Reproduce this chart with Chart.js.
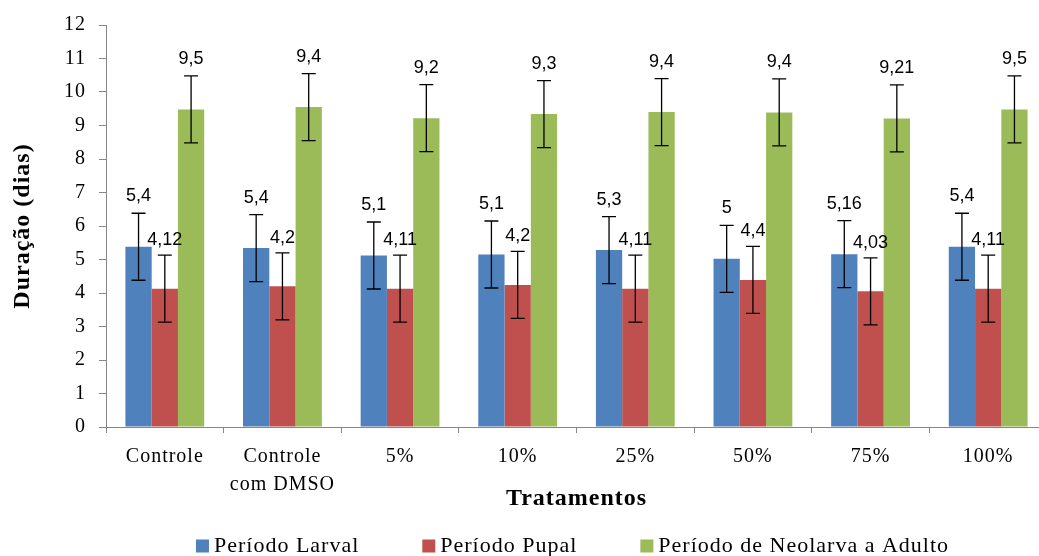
<!DOCTYPE html>
<html>
<head>
<meta charset="utf-8">
<script src="https://cdn.jsdelivr.net/npm/chart.js@4.4.1/dist/chart.umd.min.js"></script>
<style>
  html, body { margin: 0; padding: 0; background: #fff; overflow: hidden; }
  #wrap { width: 1050px; height: 556px; }
</style>
</head>
<body>
<div id="wrap"><canvas id="grafico" width="1050" height="556"></canvas></div>
<script>
// dados
var tratamentos = ["Controle", ["Controle", "com DMSO"], "5%", "10%", "25%", "50%", "75%", "100%"];
var larval = [5.38, 5.34, 5.12, 5.15, 5.28, 5.02, 5.16, 5.38];
var pupal = [4.13, 4.20, 4.13, 4.24, 4.13, 4.39, 4.05, 4.13];
var neolarva = [9.48, 9.55, 9.22, 9.34, 9.40, 9.39, 9.21, 9.48];
var erroLarval = [1, 1, 1, 1, 1, 1, 1, 1];
var erroPupal = [1, 1, 1, 1, 1, 1, 1, 1];
var erroNeolarva = [1, 1, 1, 1, 1, 1, 1, 1];
var rotLarval = ["5,4", "5,4", "5,1", "5,1", "5,3", "5", "5,16", "5,4"];
var rotPupal = ["4,12", "4,2", "4,11", "4,2", "4,11", "4,4", "4,03", "4,11"];
var rotNeolarva = ["9,5", "9,4", "9,2", "9,3", "9,4", "9,4", "9,21", "9,5"];

var serif = "'Liberation Serif', 'Times New Roman', serif";

// espaçamento entre letras para parecer com o texto do Excel
var espaco = {
	id: "espaco",
	beforeLayout: function(chart){ chart.ctx.letterSpacing = "1px"; },
	beforeDraw: function(chart){ chart.ctx.letterSpacing = "1px"; }
};

// barras de erro + rótulos de valor
var barrasErro = {
	id: "barrasErro",
	afterDatasetsDraw: function(chart){
		var ctx = chart.ctx;
		var y = chart.scales.y;
		ctx.save();
		ctx.letterSpacing = "0px";
		chart.data.datasets.forEach(function(ds, i){
			var meta = chart.getDatasetMeta(i);
			meta.data.forEach(function(bar, j){
				var v = ds.data[j], e = ds.erro[j];
				var yt = y.getPixelForValue(v + e);
				var yb = y.getPixelForValue(v - e);
				ctx.strokeStyle = "#000";
				ctx.lineWidth = 1.3;
				ctx.beginPath();
				ctx.moveTo(bar.x, yt); ctx.lineTo(bar.x, yb);
				ctx.moveTo(bar.x - 7, yt); ctx.lineTo(bar.x + 7, yt);
				ctx.moveTo(bar.x - 7, yb); ctx.lineTo(bar.x + 7, yb);
				ctx.stroke();
				ctx.fillStyle = "#000";
				ctx.font = "18px 'Liberation Sans', Arial, sans-serif";
				ctx.textAlign = "center";
				ctx.textBaseline = "middle";
				ctx.fillText(ds.rotulos[j], bar.x, yt - (i == 1 ? 15 : 17));
			});
		});
		ctx.restore();
	}
};

// legenda desenhada à mão
var legenda = {
	id: "legenda",
	afterDraw: function(chart){
		var ctx = chart.ctx;
		var area = chart.chartArea;
		ctx.save();
		ctx.letterSpacing = "1px";
		ctx.font = "22px " + serif;
		ctx.textBaseline = "middle";
		ctx.textAlign = "left";
		var gap = 63, box = 13, txt = 18;
		var larg = [];
		var total = 0;
		chart.data.datasets.forEach(function(ds, i){
			var w = txt + ctx.measureText(ds.label).width;
			larg.push(w);
			total += w + (i > 0 ? gap : 0);
		});
		var x = (area.left + area.right) / 2 - 4 - total / 2;
		var yc = 546;
		chart.data.datasets.forEach(function(ds, i){
			ctx.fillStyle = ds.backgroundColor;
			ctx.fillRect(x, yc - box / 2, box, box);
			ctx.fillStyle = "#000";
			ctx.fillText(ds.label, x + txt, yc);
			x += larg[i] + gap;
		});
		ctx.restore();
	}
};

var ctx = document.getElementById("grafico");

var data = {
	labels : tratamentos,
	datasets : [
		{
			label : "Período Larval",
			data : larval,
			erro : erroLarval,
			rotulos : rotLarval,
			backgroundColor : "#4F81BD"
		},{
			label : "Período Pupal",
			data : pupal,
			erro : erroPupal,
			rotulos : rotPupal,
			backgroundColor : "#C0504D"
		},{
			label : "Período de Neolarva a Adulto",
			data : neolarva,
			erro : erroNeolarva,
			rotulos : rotNeolarva,
			backgroundColor : "#9BBB59"
		}
	]
};

var options = {
	responsive : false,
	animation : false,
	events : [],
	layout : { padding : { top : 22, right : 3, left : 0, bottom : 43 } },
	datasets : { bar : { categoryPercentage : 0.67, barPercentage : 1.0 } },
	plugins : {
		legend : { display : false },
		tooltip : { enabled : false }
	},
	scales : {
		x : {
			grid : { drawOnChartArea : false, offset : true, tickLength : 6, color : "#868686" },
			border : { color : "#868686" },
			ticks : {
				color : "#000",
				maxRotation : 0,
				autoSkip : false,
				padding : 10,
				font : { family : serif, size : 20, lineHeight : 1.4 }
			},
			title : {
				display : true,
				text : "Tratamentos",
				color : "#000",
				padding : 0,
				font : { family : serif, size : 24, weight : "bold", lineHeight : 1.2 }
			},
			afterFit : function(scale){ scale.height = 86; }
		},
		y : {
			min : 0,
			max : 12,
			grid : { drawOnChartArea : false, tickLength : 7, color : "#868686" },
			border : { color : "#868686" },
			ticks : {
				stepSize : 1,
				color : "#000",
				padding : 13,
				font : { family : serif, size : 20 }
			},
			title : {
				display : true,
				text : "Duração (dias)",
				color : "#000",
				padding : { top : 8, bottom : 0 },
				font : { family : serif, size : 24, weight : "bold", lineHeight : 1.2 }
			},
			afterFit : function(scale){ scale.width = 106; }
		}
	}
};

var chart = new Chart(ctx, {
	type : "bar",
	data : data,
	options : options,
	plugins : [espaco, barrasErro, legenda]
});
</script>
</body>
</html>
